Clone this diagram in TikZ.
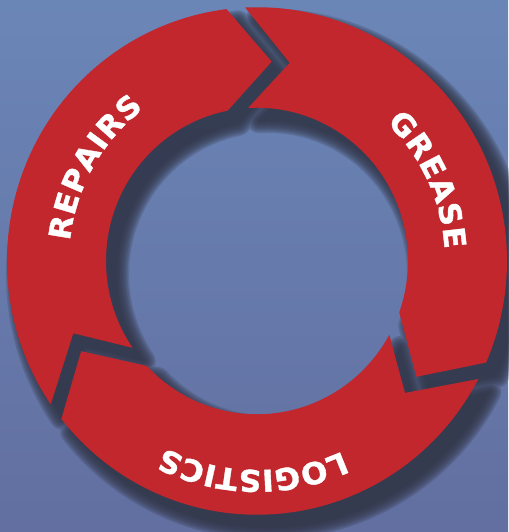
\documentclass[tikz,border=0pt]{standalone}
\usepackage{fontspec}
\newfontfamily\ringfont[FakeStretch=1.04, FakeBold=1.3]{DejaVu Sans Bold}
\usetikzlibrary{decorations.text}
\definecolor{ringred}{RGB}{193,39,45}
\definecolor{bgtop}{RGB}{106,134,183}
\definecolor{bgbot}{RGB}{98,111,160}
\definecolor{shadowc}{RGB}{50,54,72}
\tikzset{
 segRep/.style={insert path={(214.4:250pt) arc[start angle=214.4,end angle=97,radius=250pt] -- (85.7:197pt) -- (101.2:151pt) arc[start angle=101.2,end angle=214.5,radius=151pt] -- (201.2:197pt) -- cycle}},
 segGre/.style={insert path={(92.7:250pt) arc[start angle=92.7,end angle=-23.6,radius=250pt] -- (-35.6:196pt) -- (-19.6:151pt) arc[start angle=-19.6,end angle=93.4,radius=151pt] -- (80.5:198pt) -- cycle}},
 segLog/.style={insert path={(-27.7:250pt) arc[start angle=-27.7,end angle=-141.5,radius=250pt] -- (-153.2:197pt) -- (-136.8:151pt) arc[start angle=-136.8,end angle=-28.8,radius=151pt] -- (-41.3:197pt) -- cycle}},
 ringtext/.style={decorate, decoration={text along path, text align=fit to path, text color=white, text={|\ringfont\fontsize{30}{34}\selectfont|#1}}},
 shadowlayer/.style={fill=shadowc, draw=shadowc, line join=round, line width=#1}
}
\begin{document}
\begin{tikzpicture}[x=1pt,y=1pt]
\useasboundingbox (0,0) rectangle (508,532);
\shade[top color=bgtop, bottom color=bgbot] (0,0) rectangle (508,532);
\begin{scope}[shift={(257,271)}, yscale=1.015]
  % soft drop shadow: offset copy, widened in steps for a blurred edge
  \foreach \i in {0,...,8}{
    \begin{scope}[transparency group, opacity=0.22, shift={(11pt,-13pt)}]
      \path[shadowlayer={3*\i pt+0.1pt}] [segRep];
      \path[shadowlayer={3*\i pt+0.1pt}] [segGre];
      \path[shadowlayer={3*\i pt+0.1pt}] [segLog];
    \end{scope}
  }
  % red segments
  \fill[ringred] [segRep];
  \fill[ringred] [segGre];
  \fill[ringred] [segLog];
  % labels
  \path[ringtext=REPAIRS] (174:188pt) arc[start angle=174,end angle=127,radius=188pt];
  \path[ringtext=GREASE] (46.5:188pt) arc[start angle=46.5,end angle=3.5,radius=188pt];
  \path[ringtext=LOGISTICS] (-65.5:206pt) arc[start angle=-65.5,end angle=-116.5,radius=206pt];
\end{scope}
\end{tikzpicture}
\end{document}
